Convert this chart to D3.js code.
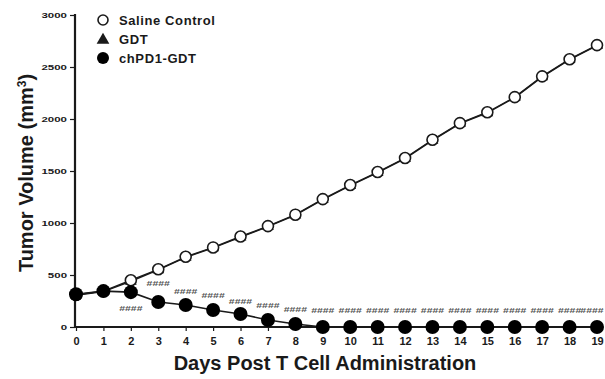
<!DOCTYPE html>
<html>
<head>
<meta charset="utf-8">
<script src="https://cdn.jsdelivr.net/npm/d3@7"></script>
<style>
  html, body { margin: 0; padding: 0; background: #fff; }
  svg { display: block; font-family: "Liberation Sans", Arial, sans-serif; }
</style>
</head>
<body>
<svg id="chart" width="605" height="379"></svg>
<script>
// ---- data ----
const days = [0,1,2,3,4,5,6,7,8,9,10,11,12,13,14,15,16,17,18,19];
const salineControl = [310,345,450,555,675,765,870,970,1080,1230,1365,1490,1625,1800,1960,2065,2210,2410,2575,2710];
const gdt = [305,340,440,550,670,760,865,965,1075,1225,1360,1485,1620,1795,1955,2060,2205,2405,2570,2705];
const chPD1GDT = [315,345,335,240,212,163,125,67,29,0,0,0,0,0,0,0,0,0,0,0];
const sigDays = [2,3,4,5,6,7,8,9,10,11,12,13,14,15,16,17,18,19];
const sigLevels = [180,423,346,308,250,212,173,155,155,155,155,155,155,155,155,155,155,155];
const sigLabel = "####";
const yTicks = [0,500,1000,1500,2000,2500,3000];
const xTicks = days;
const legendLabels = ["Saline Control","GDT","chPD1-GDT"];
const xTitle = "Days Post T Cell Administration";

// ---- layout ----
const W = 605;
const svg = d3.select("#chart");
const x = d3.scaleLinear().domain([0,19]).range([76,597]);
const y = d3.scaleLinear().domain([0,3000]).range([327,15]);
const ink = "#1a1a1a";

// axes
const xAxis = svg.append("g").attr("transform","translate(0,327)")
  .call(d3.axisBottom(x).tickValues(xTicks).tickSize(4).tickPadding(6).tickFormat(d3.format("d")));
xAxis.select(".domain").attr("stroke",ink).attr("stroke-width",2.2).attr("d","M75,0H600");
xAxis.selectAll(".tick line").attr("stroke",ink).attr("stroke-width",1.2);
xAxis.selectAll(".tick text").attr("fill",ink).attr("font-size",11).attr("font-weight","bold")
  .attr("font-family","Liberation Sans, Arial, sans-serif");

const yAxis = svg.append("g").attr("transform","translate(75,0)")
  .call(d3.axisLeft(y).tickValues(yTicks).tickSize(5).tickPadding(3).tickFormat(d3.format("d")));
yAxis.select(".domain").attr("stroke",ink).attr("stroke-width",2.2).attr("d","M0,14V328");
yAxis.selectAll(".tick line").attr("stroke",ink).attr("stroke-width",1.2);
yAxis.selectAll(".tick text").attr("fill",ink).attr("font-size",11.5).attr("font-weight","bold")
  .attr("font-family","Liberation Sans, Arial, sans-serif")
  .attr("transform","scale(1,0.7)");

// titles
svg.append("text").attr("x",325).attr("y",370).attr("text-anchor","middle")
  .attr("font-size",20).attr("font-weight","bold").attr("fill",ink).text(xTitle);

const yt = svg.append("text").attr("transform","translate(33,173) rotate(-90)")
  .attr("text-anchor","middle").attr("font-size",20).attr("font-weight","bold").attr("fill",ink);
yt.append("tspan").text("Tumor Volume (mm");
yt.append("tspan").attr("baseline-shift","super").attr("font-size",12).text("3");
yt.append("tspan").text(")");

// lines
const line = d3.line().x((d,i)=>x(days[i])).y(d=>y(d));
svg.append("path").datum(gdt).attr("d",line).attr("fill","none").attr("stroke",ink).attr("stroke-width",1.4);
svg.append("path").datum(salineControl).attr("d",line).attr("fill","none").attr("stroke",ink).attr("stroke-width",1.4);
svg.append("path").datum(chPD1GDT).attr("d",line).attr("fill","none").attr("stroke",ink).attr("stroke-width",1.6);

// significance labels (kept inside the frame)
const sigFont = 10.5, sigHalf = 12;
svg.append("g").selectAll("text").data(sigDays).join("text")
  .attr("transform",(d,i)=>`translate(${Math.min(x(d), W - 1 - sigHalf)},${y(sigLevels[i])}) scale(1,0.7)`)
  .attr("dy","0.35em").attr("text-anchor","middle")
  .attr("font-size",sigFont).attr("font-weight","bold").attr("fill","#555").text(sigLabel);

// markers
const tri = d3.symbol().type(d3.symbolTriangle).size(60);
svg.append("g").selectAll("path").data(gdt).join("path")
  .attr("d",tri).attr("transform",(d,i)=>`translate(${x(days[i])},${y(d)})`).attr("fill",ink);
svg.append("g").selectAll("circle").data(salineControl).join("circle")
  .attr("cx",(d,i)=>x(days[i])).attr("cy",d=>y(d)).attr("r",5.5)
  .attr("fill","#fff").attr("stroke",ink).attr("stroke-width",1.6);
svg.append("g").selectAll("circle").data(chPD1GDT).join("circle")
  .attr("cx",(d,i)=>x(days[i])).attr("cy",d=>y(d)).attr("r",7).attr("fill","#000");

// legend
const lg = svg.append("g");
const rows = [20,39,58];
lg.append("circle").attr("cx",103).attr("cy",rows[0]).attr("r",5).attr("fill","#fff").attr("stroke",ink).attr("stroke-width",1.6);
lg.append("path").attr("d",d3.symbol().type(d3.symbolTriangle).size(70)).attr("transform",`translate(103,${rows[1]+1})`).attr("fill",ink);
lg.append("circle").attr("cx",103).attr("cy",rows[2]).attr("r",6).attr("fill","#000");
lg.selectAll("text").data(legendLabels).join("text")
  .attr("x",119).attr("y",(d,i)=>rows[i]).attr("dy","0.36em")
  .attr("font-size",13).attr("font-weight","bold").attr("letter-spacing",0.6).attr("fill",ink).text(d=>d);
</script>
</body>
</html>
